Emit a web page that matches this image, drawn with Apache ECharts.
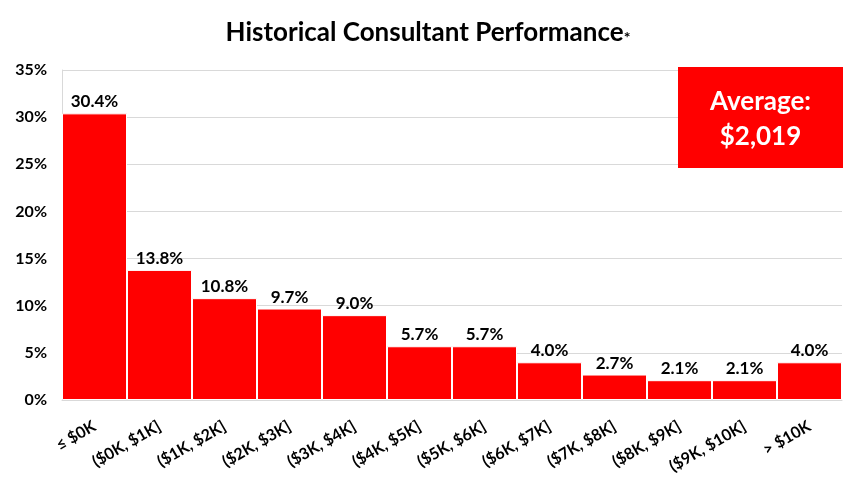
<!DOCTYPE html>
<html><head><meta charset="utf-8">
<script src="https://cdn.jsdelivr.net/npm/echarts@6/dist/echarts.min.js"></script>
<style>html,body{margin:0;padding:0;background:#fff}#c{width:856px;height:492px}</style>
</head><body><div id="c"></div>
<script>
const categories = ['≤ $0K','($0K, $1K]','($1K, $2K]','($2K, $3K]','($3K, $4K]','($4K, $5K]','($5K, $6K]','($6K, $7K]','($7K, $8K]','($8K, $9K]','($9K, $10K]','> $10K'];
const shares = [30.4, 13.8, 10.8, 9.7, 9.0, 5.7, 5.7, 4.0, 2.7, 2.1, 2.1, 4.0];
const yTicks = [0, 5, 10, 15, 20, 25, 30, 35];
const titleText = 'Historical Consultant Performance';
const averageText = ['Average:', '$2,019'];

const FONT = 'Lato, "Open Sans", sans-serif';
const chart = echarts.init(document.getElementById('c'));
chart.setOption({
  animation: false,
  title: {
    text: '{t|' + titleText + '}{s|*}',
    left: 'center', top: 15,
    textStyle: { rich: {
      t: { fontFamily: FONT, fontWeight: 'bold', fontSize: 26, color: '#000' },
      s: { fontFamily: FONT, fontWeight: 'bold', fontSize: 16, color: '#000', verticalAlign: 'bottom' }
    } }
  },
  grid: { left: 62, right: 14, top: 70, bottom: 92, containLabel: false },
  xAxis: {
    type: 'category', data: categories,
    axisLine: { show: true, lineStyle: { color: '#d9d9d9' } },
    axisTick: { show: false },
    axisLabel: { interval: 0, rotate: 30, fontFamily: FONT, fontWeight: 'bold', fontSize: 16, color: '#000', margin: 25 }
  },
  yAxis: {
    type: 'value', min: yTicks[0], max: yTicks[yTicks.length - 1], interval: 5,
    axisLine: { show: true, lineStyle: { color: '#d9d9d9' } },
    axisTick: { show: false },
    splitLine: { lineStyle: { color: '#d9d9d9' } },
    axisLabel: { formatter: '{value}%', fontFamily: FONT, fontWeight: 'bold', fontSize: 16, color: '#000', margin: 15 }
  },
  series: [{
    type: 'bar', data: shares, barCategoryGap: 0,
    itemStyle: { color: '#ff0000', borderColor: '#ffffff', borderWidth: 1 },
    label: { show: true, position: 'top', formatter: p => p.value.toFixed(1) + '%', fontFamily: FONT, fontWeight: 'bold', fontSize: 17, color: '#000', distance: 3 }
  }],
  graphic: [{
    type: 'group', left: 678, top: 67, z: 100,
    children: [
      { type: 'rect', z: 100, shape: { x: 0, y: 0, width: 165, height: 101 }, style: { fill: '#ff0000' } },
      { type: 'text', z: 101, x: 82.5, y: 35, style: { text: averageText[0], fill: '#fff', font: 'bold 26px ' + FONT, align: 'center', verticalAlign: 'middle' } },
      { type: 'text', z: 101, x: 82.5, y: 70, style: { text: averageText[1], fill: '#fff', font: 'bold 26px ' + FONT, align: 'center', verticalAlign: 'middle' } }
    ]
  }]
});
</script></body></html>
